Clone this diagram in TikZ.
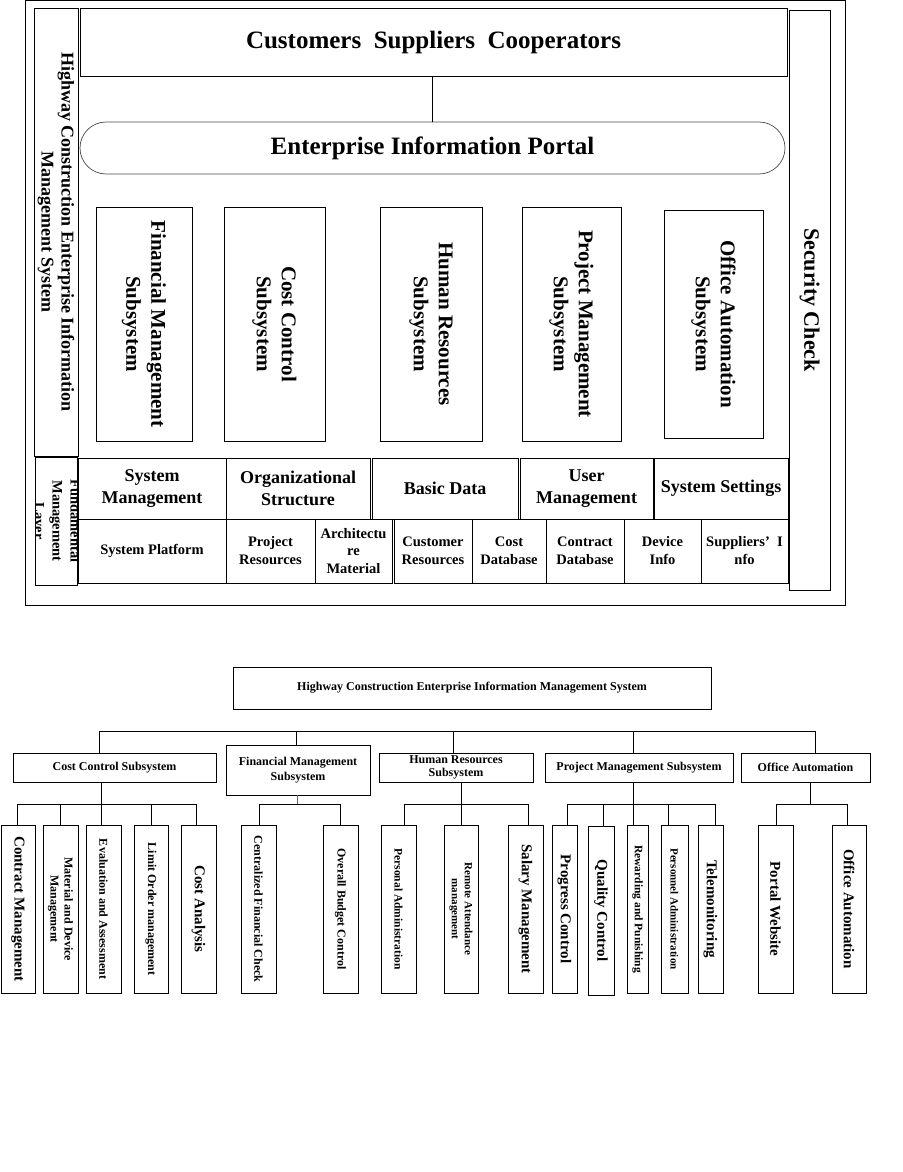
\documentclass[tikz,border=0pt]{standalone}
\usepackage{fontspec}
\setmainfont{Liberation Serif}
\tikzset{
  box/.style={draw, line width=0.9pt, inner sep=0pt},
  txt/.style={align=center, inner sep=0pt},
  vtxt/.style={align=center, inner sep=0pt, rotate=-90},
  ln/.style={line width=0.8pt},
}
\newcommand\fsz[2]{\fontsize{#1}{#2}\selectfont\bfseries}
% \bx[style]{name}{x1}{y1}{x2}{y2}
\newcommand\bx[6][]{\node[box,#1,minimum width={#5-#3},minimum height={#6-#4}] (#2) at ({(#3+#5)/2},{(#4+#6)/2}) {};}
\begin{document}
\begin{tikzpicture}[x=1pt,y=-1pt]
\useasboundingbox[fill=white] (0,0) rectangle (902,1172);
% ================= TOP DIAGRAM =================
\draw[ln] (25,0.6) rectangle (845,605);
\bx{hwy}{34}{8}{78}{456}
\node[vtxt,font=\fsz{18}{20}] (hwy-t) at (hwy) {Highway Construction Enterprise Information\\Management System};
\bx{cust}{80}{8}{787}{76}
\node[txt,font=\fsz{25}{28}] (cust-t) at (cust) {Customers~~Suppliers~~Cooperators};
\bx[rounded corners=26pt,draw=black!70,line width=0.7pt]{portal}{80}{122}{785}{174}
\node[txt,font=\fsz{25}{28}] (portal-t) at (portal) {Enterprise Information Portal};
\draw[ln] (portal.north |- cust.south) -- (portal.north);
\bx{sec}{789}{10}{830}{590}
\node[vtxt,font=\fsz{22}{25}] (sec-t) at (sec) {Security Check};
% subsystems
\bx{fin}{96}{207}{192}{441}
\node[vtxt,font=\fsz{21}{25}] (fin-t) at (fin) {Financial Management\\Subsystem};
\bx{cost}{224}{207}{325}{441}
\node[vtxt,font=\fsz{21}{25}] (cost-t) at (cost) {Cost Control\\Subsystem};
\bx{hr}{380}{207}{482}{441}
\node[vtxt,font=\fsz{21}{25}] (hr-t) at (hr) {Human Resources\\Subsystem};
\bx{pm}{522}{207}{621}{441}
\node[vtxt,font=\fsz{21}{25}] (pm-t) at (pm) {Project Management\\Subsystem};
\bx{oa}{664}{210}{763}{438}
\node[vtxt,font=\fsz{21}{25}] (oa-t) at (oa) {Office Automation\\Subsystem};
% fundamental layer
\bx{fund}{35}{457}{77}{585}
\begin{scope}
\clip (35,457) rectangle (77,585);
\node[vtxt,font=\fsz{14.5}{18}] (fund-t) at (fund) {Fundamental\\Management\\Layer};
\end{scope}
% row 1
\bx{sysm}{78}{458}{226}{519}
\node[txt,font=\fsz{18}{22}] (sysm-t) at (sysm) {System\\Management};
\bx{org}{226}{458}{370}{519}
\node[txt,font=\fsz{18}{22}] (org-t) at (org) {Organizational\\Structure};
\bx{basic}{372}{458}{518}{519}
\node[txt,font=\fsz{18}{22}] (basic-t) at (basic) {Basic Data};
\bx{user}{520}{458}{653}{519}
\node[txt,font=\fsz{18}{22}] (user-t) at (user) {User\\Management};
\bx{sset}{654}{458}{788}{519}
\node[txt,font=\fsz{18}{22}] (sset-t) at (sset) {System Settings};
% row 2
\bx{plat}{78}{519}{226}{583}
\node[txt,font=\fsz{14.5}{18}] (plat-t) at (plat) {System Platform};
\bx{pres}{226}{519}{315}{583}
\node[txt,font=\fsz{14.5}{18}] (pres-t) at (pres) {Project\\Resources};
\bx{arch}{315}{519}{392}{583}
\node[txt,font=\fsz{14.5}{17.5}] (arch-t) at (arch) {Architectu\\re\\Material};
\bx{cres}{394}{519}{472}{583}
\node[txt,font=\fsz{14.5}{18}] (cres-t) at (cres) {Customer\\Resources};
\bx{cdb}{472}{519}{546}{583}
\node[txt,font=\fsz{14.5}{18}] (cdb-t) at (cdb) {Cost\\Database};
\bx{ctdb}{546}{519}{624}{583}
\node[txt,font=\fsz{14.5}{18}] (ctdb-t) at (ctdb) {Contract\\Database};
\bx{dev}{624}{519}{701}{583}
\node[txt,font=\fsz{14.5}{18}] (dev-t) at (dev) {Device\\Info};
\bx{sup}{701}{519}{788}{583}
\node[txt,font=\fsz{14.5}{18}] (sup-t) at (sup) {Suppliers’~~I\\nfo};
% ================= BOTTOM DIAGRAM =================
\bx{title}{233}{667}{711}{709}
\node[txt,font=\fsz{12}{14}] (title-t) at (title) {Highway Construction Enterprise Information Management System};
\bx{ccs}{13}{753}{216}{782}
\node[txt,font=\fsz{12}{14}] (ccs-t) at (ccs) {Cost Control Subsystem};
\bx{fms}{226}{745}{370}{795}
\node[txt,font=\fsz{12}{15}] (fms-t) at (fms) {Financial Management\\Subsystem};
\bx{hrs}{379}{753}{533}{782}
\node[txt,font=\fsz{12}{13}] (hrs-t) at (hrs) {Human Resources\\Subsystem};
\bx{pms}{545}{753}{733}{782}
\node[txt,font=\fsz{12}{14}] (pms-t) at (pms) {Project Management Subsystem};
\bx{oas}{741}{753}{870}{782}
\node[txt,font=\fsz{12}{14}] (oas-t) at (oas) {Office Automation};
% main bus
\coordinate (bL) at (99,731);
\coordinate (bR) at (815,731);
\coordinate (d2) at (296,731);
\coordinate (d3) at (453,731);
\coordinate (d4) at (633,731);
\draw[ln] (bL) -- (bR);
\draw[ln] (bL) -- (bL |- ccs.north);
\draw[ln] (d2) -- (d2 |- fms.north);
\draw[ln] (d3) -- (d3 |- hrs.north);
\draw[ln] (d4) -- (d4 |- pms.north);
\draw[ln] (bR) -- (bR |- oas.north);
% leaves
\bx{l1}{1}{825}{35}{993}
\node[vtxt,font=\fsz{15}{17}] (l1-t) at (l1) {Contract Management};
\bx{l2}{43}{825}{78}{993}
\node[vtxt,font=\fsz{12}{14}] (l2-t) at (l2) {Material and Device\\Management};
\bx{l3}{86}{825}{121}{993}
\node[vtxt,font=\fsz{12}{14}] (l3-t) at (l3) {Evaluation and Assessment};
\bx{l4}{134}{825}{168}{993}
\node[vtxt,font=\fsz{12}{14}] (l4-t) at (l4) {Limit Order management};
\bx{l5}{181}{825}{216}{993}
\node[vtxt,font=\fsz{15}{17}] (l5-t) at (l5) {Cost Analysis};
\bx{l6}{241}{825}{276}{993}
\node[vtxt,font=\fsz{12}{14}] (l6-t) at (l6) {Centralized Financial Check};
\bx{l7}{323}{825}{358}{993}
\node[vtxt,font=\fsz{12}{14}] (l7-t) at (l7) {Overall Budget Control};
\bx{l8}{381}{825}{416}{993}
\node[vtxt,font=\fsz{11.5}{14}] (l8-t) at (l8) {Personal Administration};
\bx{l9}{444}{825}{478}{993}
\node[vtxt,font=\fsz{11}{13}] (l9-t) at (l9) {Remote Attendance\\management};
\bx{l10}{508}{825}{543}{993}
\node[vtxt,font=\fsz{15}{17}] (l10-t) at (l10) {Salary Management};
\bx{l11}{552}{825}{577}{993}
\node[vtxt,font=\fsz{15}{17}] (l11-t) at (l11) {Progress Control};
\bx{l12}{588}{826}{614}{995}
\node[vtxt,font=\fsz{15}{17}] (l12-t) at (l12) {Quality Control};
\bx{l13}{627}{825}{648}{993}
\node[vtxt,font=\fsz{11.5}{14}] (l13-t) at (l13) {Rewarding and Punishing};
\bx{l14}{661}{825}{688}{993}
\node[vtxt,font=\fsz{11}{14}] (l14-t) at (l14) {Personnel Administration};
\bx{l15}{698}{825}{723}{993}
\node[vtxt,font=\fsz{15}{17}] (l15-t) at (l15) {Telemonitoring};
\bx{l16}{758}{825}{793}{993}
\node[vtxt,font=\fsz{15}{17}] (l16-t) at (l16) {Portal Website};
\bx{l17}{832}{825}{866}{993}
\node[vtxt,font=\fsz{15}{17}] (l17-t) at (l17) {Office Automation};
% sub-buses
\coordinate (cc0) at (101,804);
\draw[ln] (cc0 |- ccs.south) -- (cc0);
\coordinate (ccA) at (17,804); \coordinate (ccB) at (196,804);
\draw[ln] (ccA) -- (ccB);
\foreach \x/\n in {17/l1,60/l2,101/l3,151/l4,196/l5}{
  \coordinate (t) at (\x,804);
  \draw[ln] (t) -- (t |- \n.north);
}
\coordinate (fm0) at (297,804);
\draw[ln,black!60,line width=0.6pt] (fm0 |- fms.south) -- (fm0);
\coordinate (fmA) at (259,804); \coordinate (fmB) at (340,804);
\draw[ln] (fmA) -- (fmB);
\foreach \x/\n in {259/l6,340/l7}{
  \coordinate (t) at (\x,804);
  \draw[ln] (t) -- (t |- \n.north);
}
\coordinate (hr0) at (461,804);
\draw[ln] (hr0 |- hrs.south) -- (hr0);
\coordinate (hrA) at (404,804); \coordinate (hrB) at (528,804);
\draw[ln] (hrA) -- (hrB);
\foreach \x/\n in {404/l8,461/l9,528/l10}{
  \coordinate (t) at (\x,804);
  \draw[ln] (t) -- (t |- \n.north);
}
\coordinate (pm0) at (633,804);
\draw[ln] (pm0 |- pms.south) -- (pm0);
\coordinate (pmA) at (567,804); \coordinate (pmB) at (715,804);
\draw[ln] (pmA) -- (pmB);
\foreach \x/\n in {567/l11,603/l12,633/l13,668/l14,715/l15}{
  \coordinate (t) at (\x,804);
  \draw[ln] (t) -- (t |- \n.north);
}
\coordinate (oa0) at (810,804);
\draw[ln] (oa0 |- oas.south) -- (oa0);
\coordinate (oaA) at (776,804); \coordinate (oaB) at (847,804);
\draw[ln] (oaA) -- (oaB);
\foreach \x/\n in {776/l16,847/l17}{
  \coordinate (t) at (\x,804);
  \draw[ln] (t) -- (t |- \n.north);
}
\end{tikzpicture}
\end{document}
